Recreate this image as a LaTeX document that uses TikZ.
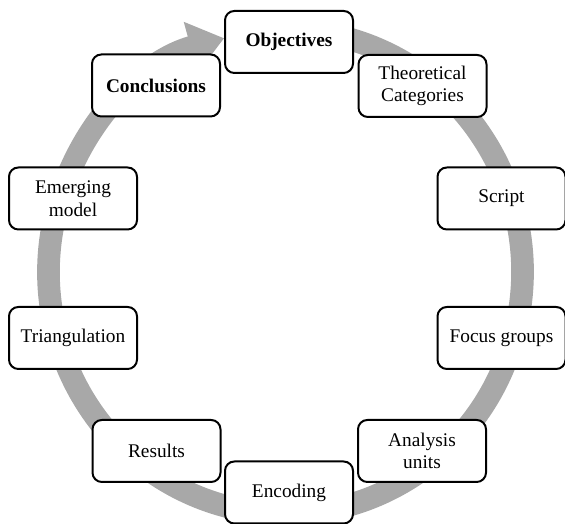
\documentclass[tikz,border=0pt]{standalone}
\usepackage{fontspec}
\setmainfont{Liberation Serif}
\usetikzlibrary{arrows.meta}

\begin{document}
\begin{tikzpicture}[x=0.75pt,y=0.75pt,line cap=round,line join=round,
  stage/.style={draw=black,line width=1.5pt,rounded corners=7pt,fill=white,
    minimum width=96pt,minimum height=46.5pt,align=center,
    font=\fontsize{14.5}{17}\selectfont},
  keystage/.style={stage,font=\fontsize{14.5}{17}\selectfont\bfseries}]
  \definecolor{ringcol}{RGB}{168,168,168}

  \useasboundingbox (0,0) rectangle (565,524);

  % ---- grey cycle ring (clockwise) ----
  \coordinate (ctr) at (285.5,252);
  \draw[ringcol,line width=17pt,line cap=butt,
    -{Triangle[width=38pt,length=26pt]}]
    ([shift={(80:237 and 242)}]ctr) arc[start angle=80,end angle=-255,x radius=237,y radius=242];

  % ---- stages ----
  \node[keystage] (obj)   at (289,482)   {Objectives};
  \node[stage]    (theo)  at (422.5,438) {Theoretical\\Categories};
  \node[stage]    (script) at (501.5,325.5) {Script};
  \node[stage]    (focus) at (501.5,186) {Focus groups};
  \node[stage]    (units) at (422,73)    {Analysis\\units};
  \node[stage]    (enc)   at (289,31.5)  {Encoding};
  \node[stage]    (res)   at (156.5,73)  {Results};
  \node[stage]    (tri)   at (73,186)    {Triangulation};
  \node[stage]    (emerg) at (73,325.5)  {Emerging\\model};
  \node[keystage] (concl) at (156,438.5) {Conclusions};
\end{tikzpicture}
\end{document}
